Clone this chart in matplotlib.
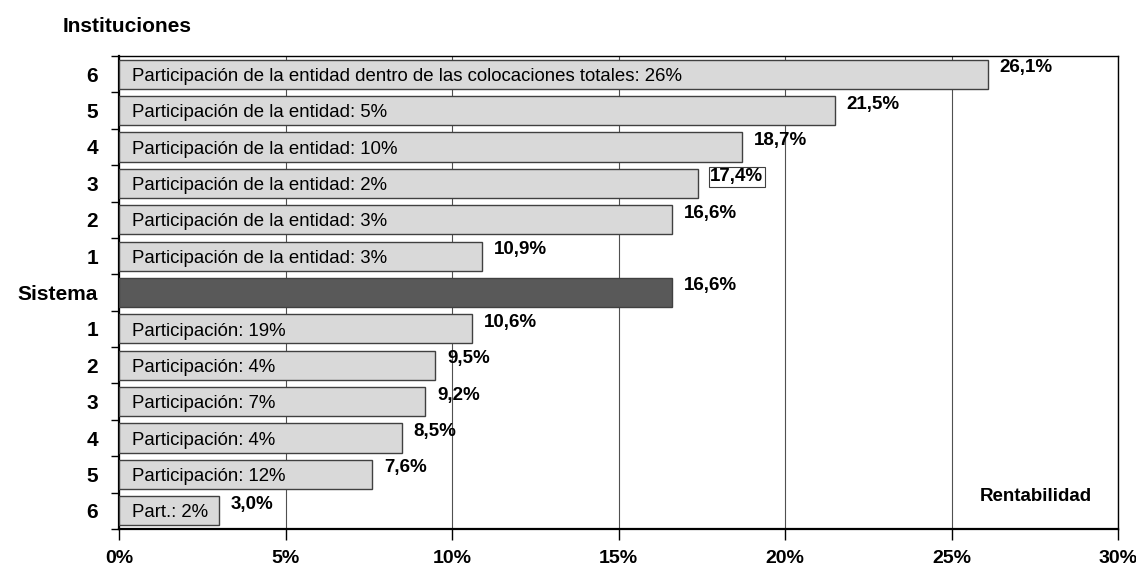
import numpy as np
import matplotlib.pyplot as plt
from matplotlib.ticker import FixedLocator, FuncFormatter

plt.rcParams['font.family'] = ['Liberation Sans', 'DejaVu Sans']

# rows from top to bottom
row_labels = ['6', '5', '4', '3', '2', '1', 'Sistema', '1', '2', '3', '4', '5', '6']
values = [26.1, 21.5, 18.7, 17.4, 16.6, 10.9, 16.6, 10.6, 9.5, 9.2, 8.5, 7.6, 3.0]
value_texts = ['26,1%', '21,5%', '18,7%', '17,4%', '16,6%', '10,9%', '16,6%',
               '10,6%', '9,5%', '9,2%', '8,5%', '7,6%', '3,0%']
bar_texts = ['Participación de la entidad dentro de las colocaciones totales: 26%',
             'Participación de la entidad: 5%',
             'Participación de la entidad: 10%',
             'Participación de la entidad: 2%',
             'Participación de la entidad: 3%',
             'Participación de la entidad: 3%',
             '',
             'Participación: 19%',
             'Participación: 4%',
             'Participación: 7%',
             'Participación: 4%',
             'Participación: 12%',
             'Part.: 2%']
boxed = [False, False, False, True, False, False, False,
         False, False, False, False, False, False]

fig = plt.figure(figsize=(11.36, 5.68), dpi=100)
ax = fig.add_axes([0.1048, 0.0687, 0.8794, 0.8327])

n = len(values)
y = np.arange(n)
colors = ['#595959' if lab == 'Sistema' else '#d9d9d9' for lab in row_labels]
ax.barh(y, values, height=0.8, color=colors, edgecolor='#404040', linewidth=1.0, zorder=3)

for yi, v, vt, bt, bx in zip(y, values, value_texts, bar_texts, boxed):
    kw = {}
    if bx:
        kw['bbox'] = dict(boxstyle='square,pad=0.08', fc='white', ec='#404040', lw=0.8)
    ax.text(v + 0.35, yi - 0.18, vt, ha='left', va='center', fontsize=13.5,
            fontweight='bold', zorder=5, **kw)
    if bt:
        ax.text(0.4, yi + 0.06, bt, ha='left', va='center', fontsize=13.4, zorder=5)

ax.set_xlim(0, 30)
ax.set_ylim(n - 0.5, -0.5)

ax.xaxis.set_major_locator(FixedLocator(np.arange(0, 31, 5)))
ax.xaxis.set_major_formatter(FuncFormatter(lambda x, p: f'{x:.0f}%'))
ax.tick_params(axis='x', length=8, width=1, pad=7, labelsize=14)
for lab in ax.get_xticklabels():
    lab.set_fontweight('bold')

ax.set_yticks(y)
ax.set_yticklabels(row_labels, fontsize=15, fontweight='bold')
ax.tick_params(axis='y', which='major', length=0, pad=15)
ax.yaxis.set_minor_locator(FixedLocator(np.arange(-0.5, n, 1.0)))
ax.tick_params(axis='y', which='minor', length=6, width=1)

ax.grid(axis='x', color='#505050', linewidth=0.8, zorder=0)
ax.set_axisbelow(True)
for side in ['left', 'bottom']:
    ax.spines[side].set_linewidth(1.6)
for side in ['top', 'right']:
    ax.spines[side].set_linewidth(1.0)

fig.text(63 / 1136, 1 - 27 / 568, 'Instituciones', ha='left', va='center',
         fontsize=15, fontweight='bold')
ax.text(29.2, 11.62, 'Rentabilidad', ha='right', va='center',
        fontsize=13.5, fontweight='bold')

fig.savefig('out.png', dpi=100)
